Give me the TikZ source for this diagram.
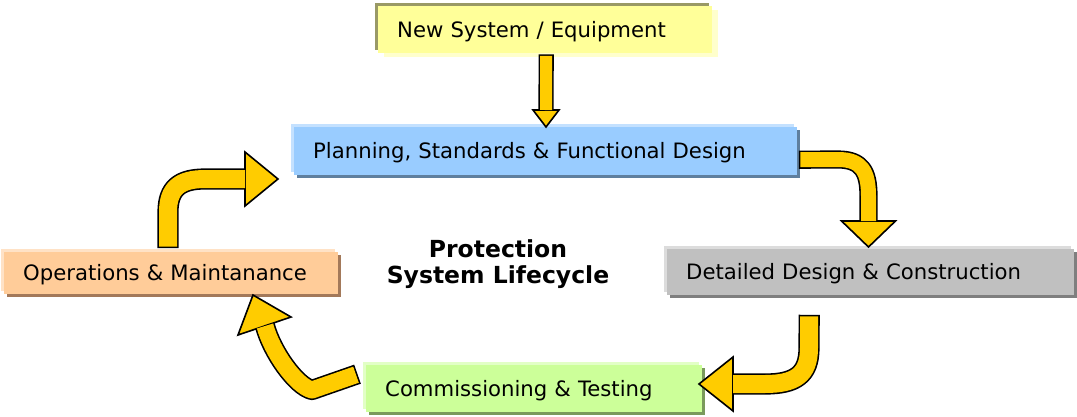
\documentclass[tikz,border=0pt]{standalone}
\usepackage{fontspec}
\setmainfont{DejaVu Sans}
\usetikzlibrary{shadows,calc}

\definecolor{arrowfill}{HTML}{FFCC00}
\definecolor{newfill}{HTML}{FFFF99}
\definecolor{newdark}{HTML}{999966}
\definecolor{newlight}{HTML}{FFFFCC}
\definecolor{planfill}{HTML}{99CCFF}
\definecolor{plandark}{HTML}{5F7F9E}
\definecolor{planlight}{HTML}{C4E1FF}
\definecolor{detailfill}{HTML}{C0C0C0}
\definecolor{detaildark}{HTML}{7F7F7F}
\definecolor{detaillight}{HTML}{DCDCDC}
\definecolor{commisfill}{HTML}{CCFF99}
\definecolor{commisdark}{HTML}{7A9A5C}
\definecolor{commislight}{HTML}{E2FFC6}
\definecolor{operatefill}{HTML}{FFCC99}
\definecolor{operatedark}{HTML}{A3795A}
\definecolor{operatelight}{HTML}{FFE2C6}

% #1 shaft width, #2 shaft width + outline, #3 shaft path, #4 head
\newcommand{\blockarrow}[4]{%
  \draw[line width=#2, line join=round, shorten <=-1.6pt] #3;
  \filldraw[fill=arrowfill, line width=1.6pt, line join=miter] #4 -- cycle;
  \draw[arrowfill, line width=#1, line join=round] #3;
}

\tikzset{
  stage/.style={anchor=north west, inner xsep=19pt, inner ysep=0pt, align=left,
    text height=17.3pt, text depth=2.7pt, font=\fontsize{21.2}{25}\selectfont},
  lit/.style={general shadow={shadow xshift=-3pt, shadow yshift=3pt, fill=#1}},
  dim/.style={general shadow={shadow xshift=3pt, shadow yshift=-3pt, fill=#1}},
}

\begin{document}
\begin{tikzpicture}[x=1pt, y=-1pt]
  \useasboundingbox (0,0) rectangle (1077,416);

  \node[stage, fill=newfill, general shadow={shadow xshift=6pt, shadow yshift=-4pt, fill=newlight},
    general shadow={shadow xshift=-3pt, shadow yshift=3pt, fill=newdark},
    text width=296pt, minimum height=47pt] (newsys) at (378,6) {New System / Equipment};
  \node[stage, fill=planfill, lit=planlight, dim=plandark,
    text width=465pt, minimum height=48pt] (plan) at (294,127) {Planning, Standards \& Functional Design};
  \node[stage, fill=detailfill, lit=detaillight, dim=detaildark,
    text width=369pt, minimum height=46pt] (detail) at (667,249) {Detailed Design \& Construction};
  \node[stage, fill=commisfill, lit=commislight, dim=commisdark,
    text width=298pt, minimum height=47pt] (commis) at (366,365) {Commissioning \& Testing};
  \node[stage, fill=operatefill, lit=operatelight, dim=operatedark,
    text width=296pt, minimum height=42pt] (operate) at (4,252) {Operations \& Maintanance};

  \node[font=\bfseries\fontsize{23.5}{26.5}\selectfont, align=center] (title) at (498,264)
    {Protection\\System Lifecycle};

  \coordinate (a1) at ($(newsys.south)+(1,2.5)$);
  \coordinate (a2) at ($(plan.east)+(3,8.5)$);
  \coordinate (a3) at ($(operate.north west)+(164,-5.5)$);
  \coordinate (a4) at ($(commis.west)+(-10,-14)$);
  \coordinate (a5) at ($(detail.south)+(-61.5,21)$);

  \blockarrow{12pt}{15.2pt}{(a1) -- (546,110)}{(533,110) -- (546,127) -- (559,110)}
  \blockarrow{15pt}{18.2pt}{(a2) -- (838,159.5) .. controls (862,159.5) and (868.5,172) .. (868.5,196) -- (868.5,221)}
    {(841.5,221) -- (868.5,247) -- (895.5,221)}
  \blockarrow{18pt}{21.2pt}{(a3) -- (168,212) .. controls (168,188) and (180,179) .. (205,179) -- (245,179)}
    {(245,152) -- (278,179) -- (245,206)}
  \blockarrow{17pt}{20.2pt}{(a4) -- (312,390) .. controls (296,386) and (272,352) .. (265,326)}
    {(291,317) -- (253,295) -- (238,335)}
  \blockarrow{18pt}{21.2pt}{(a5) -- (809,348) .. controls (809,375) and (795,384) .. (765,384) -- (733,384)}
    {(733,357) -- (699,384) -- (733,411)}
\end{tikzpicture}
\end{document}
